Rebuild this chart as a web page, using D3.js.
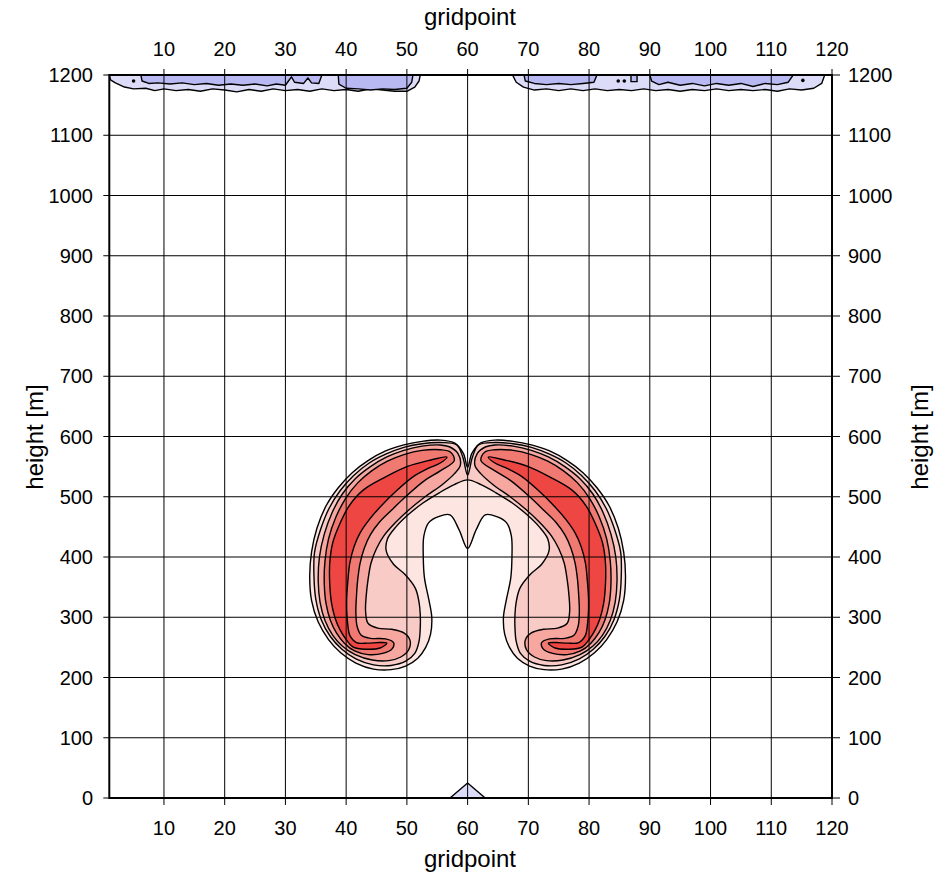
<!DOCTYPE html>
<html>
<head>
<meta charset="utf-8">
<script src="https://cdn.jsdelivr.net/npm/d3@7"></script>
<style>
  body { margin: 0; background: #fff; }
  text { font-family: "Liberation Sans", Arial, sans-serif; fill: #000; }
</style>
</head>
<body>
<div class="svg-content"></div>
<script>
// axis ticks
var xTicks = [10, 20, 30, 40, 50, 60, 70, 80, 90, 100, 110, 120];
var yTicks = [0, 100, 200, 300, 400, 500, 600, 700, 800, 900, 1000, 1100, 1200];

// contour outlines, [gridpoint, height]
var bubbleL1 = [[60.0,414],[58.6,445],[57.1,470],[55.2,467],[53.6,457],[52.8,435],[52.7,400],[52.9,365],[53.6,330],[54.1,300],[53.9,272],[53.1,250],[51.8,232],[49.8,219],[47.4,213],[44.5,214],[41.6,224],[39.1,241],[37.1,263],[35.4,292],[34.3,328],[34.0,368],[34.3,408],[35.2,448],[36.7,485],[38.7,515],[41.0,540],[43.6,560],[46.5,576],[49.5,586],[52.5,592],[55.5,594],[57.9,589],[59.3,572],[60.0,549],
  [60.7,572],[62.1,589],[64.5,594],[67.5,592],[70.5,586],[73.5,576],[76.4,560],[79.0,540],[81.3,515],[83.3,485],[84.8,448],[85.7,408],[86.0,368],[85.7,328],[84.6,292],[82.9,263],[80.9,241],[78.4,224],[75.5,214],[72.6,213],[70.2,219],[68.2,232],[66.9,250],[66.1,272],[65.9,300],[66.4,330],[67.1,365],[67.3,400],[67.2,435],[66.4,457],[64.8,467],[62.9,470],[61.4,445]];

var bubbleL2 = [[60,536],[59.2,566],[58.2,586],[55.5,590],[52.5,588],[49.5,582],[46.6,571],[43.8,556],[41.2,535],[39,510],[37.2,481],[35.8,446],[34.8,408],[34.7,368],[35,330],[35.9,296],[37.4,268],[39.3,247],[41.6,231],[44.5,221],[47.4,220],[49.8,227],[51.3,240],[52,260],[52.2,282],[52.2,305],[52,325],[51.4,348],[49.7,371],[47.8,388],[46.6,410],[46.8,430],[48.2,450],[50.2,470],[52.7,490],[55.4,507],[57.8,520],[60,528],
  [62.2,520],[64.6,507],[67.3,490],[69.8,470],[71.8,450],[73.2,430],[73.4,410],[72.2,388],[70.3,371],[68.6,348],[68,325],[67.8,305],[67.8,282],[68,260],[68.7,240],[70.2,227],[72.6,220],[75.5,221],[78.4,231],[80.7,247],[82.6,268],[84.1,296],[85,330],[85.3,368],[85.2,408],[84.2,446],[82.8,481],[81,510],[78.8,535],[76.2,556],[73.4,571],[70.5,582],[67.5,588],[64.5,590],[61.8,586],[60.8,566]];

var bubbleL3Left = [[58.8,552],[58.4,572],[57,583],[55.5,586],[52.5,584],[49.5,577],[46.7,566],[44,550],[41.5,530],[39.4,505],[37.7,474],[36.4,438],[35.6,400],[35.4,360],[35.7,325],[36.5,295],[37.8,270],[39.4,252],[41.5,238],[44.3,229],[47,228],[49,234],[50.3,246],[50.5,262],[49.5,274],[47.5,280],[45.2,282],[43.6,290],[43.2,310],[43.3,335],[43.6,362],[44.1,390],[45,414],[46.2,435],[48,456],[50.3,478],[53,500],[55.8,520],[57.8,538]];
var bubbleL3Right = [[61.2,552],[61.6,572],[63,583],[64.5,586],[67.5,584],[70.5,577],[73.3,566],[76,550],[78.5,530],[80.6,505],[82.3,474],[83.6,438],[84.4,400],[84.6,360],[84.3,325],[83.5,295],[82.2,270],[80.6,252],[78.5,238],[75.7,229],[73,228],[71,234],[69.7,246],[69.5,262],[70.5,274],[72.5,280],[74.8,282],[76.4,290],[76.8,310],[76.7,335],[76.4,362],[75.9,390],[75,414],[73.8,435],[72,456],[69.7,478],[67,500],[64.2,520],[62.2,538]];

var bubbleL4Left = [[57.8,560],[57.2,574],[55.5,578],[52.5,577],[49.5,570],[46.8,559],[44.2,543],[41.9,523],[39.9,497],[38.3,466],[37.1,430],[36.5,392],[36.4,355],[36.7,322],[37.4,295],[38.4,274],[39.7,257],[41.4,244],[43.6,238],[46,240],[47.6,248],[47.8,258],[46.5,264],[44,265],[42.5,270],[41.8,285],[41.6,310],[41.7,335],[41.9,362],[42.3,390],[43,415],[44,437],[45.5,458],[47.5,478],[50,502],[52.8,526],[55.5,543]];
var bubbleL4Right = [[62.2,560],[62.8,574],[64.5,578],[67.5,577],[70.5,570],[73.2,559],[75.8,543],[78.1,523],[80.1,497],[81.7,466],[82.9,430],[83.5,392],[83.6,355],[83.3,322],[82.6,295],[81.6,274],[80.3,257],[78.6,244],[76.4,238],[74,240],[72.4,248],[72.2,258],[73.5,264],[76,265],[77.5,270],[78.2,285],[78.4,310],[78.3,335],[78.1,362],[77.7,390],[77,415],[76,437],[74.5,458],[72.5,478],[70,502],[67.2,526],[64.5,543]];

var bubbleL5Left = [[56.6,566],[53.5,560],[50,550],[46.5,533],[42.8,511],[40.5,485],[39,456],[37.8,424],[37.3,390],[37.3,355],[37.6,323],[38.2,298],[39,279],[40,263],[41.1,251],[43.2,247],[45.6,249],[46.7,257],[45.5,258],[43.5,257],[41.7,258],[40.6,270],[40.3,285],[40.1,310],[40.1,334],[40.3,362],[40.6,390],[41.3,417],[42.3,440],[43.8,462],[45.6,483],[48.2,509],[51,533],[53.5,547],[55.5,556]];
var bubbleL5Right = [[63.4,566],[66.5,560],[70,550],[73.5,533],[77.2,511],[79.5,485],[81,456],[82.2,424],[82.7,390],[82.7,355],[82.4,323],[81.8,298],[81,279],[80,263],[78.9,251],[76.8,247],[74.4,249],[73.3,257],[74.5,258],[76.5,257],[78.3,258],[79.4,270],[79.7,285],[79.9,310],[79.9,334],[79.7,362],[79.4,390],[78.7,417],[77.7,440],[76.2,462],[74.4,483],[71.8,509],[69,533],[66.5,547],[64.5,556]];

// negative areas at the model top and the ground
var blueOuterLeft = [[1,1200],[1.2,1192],[2,1187],[3.5,1180],[5,1177],[7,1178],[8.5,1174],[10,1177],[12,1174],[14,1176],[16,1173],[18,1177],[20,1175],[22,1172],[24,1176],[26,1173],[28,1177],[30,1174],[32,1176],[34,1173],[36,1177],[38,1174],[40,1176],[42,1173],[44,1177],[46,1175],[48,1173],[50,1173],[51.3,1180],[52,1190],[52.2,1200]];
var blueOuterRight = [[67.4,1200],[68,1188],[69.2,1180],[71,1175],[73,1177],[75,1174],[77,1177],[79,1174],[81,1177],[83,1174],[85,1176],[87,1174],[89,1177],[91,1174],[93,1176],[95,1173],[97,1176],[99,1174],[101,1177],[103,1174],[105,1176],[107,1174],[109,1176],[111,1173],[113,1177],[115,1175],[117,1178],[118.3,1186],[118.8,1200]];
var blueInner = [
  [[6.2,1200],[6.4,1190],[7.5,1186],[9,1187],[11,1185],[13,1187],[15,1184],[17,1186],[19,1183],[21,1185],[23,1183],[25,1185],[27,1182],[28.5,1185],[30,1183],[30.5,1190],[31,1197],[31.5,1188],[33,1186],[33.7,1195],[34.3,1187],[35.5,1186],[36,1200]],
  [[38.7,1200],[38.8,1185],[40,1178],[42,1177],[44,1175],[46,1177],[48,1176],[50,1178],[50.8,1188],[51,1200]],
  [[69.3,1200],[69.5,1190],[71,1186],[73,1184],[75,1186],[77,1184],[79,1186],[80.8,1188],[81.3,1200]],
  [[86.9,1200],[86.9,1189],[87.9,1189],[87.9,1200]],
  [[90,1200],[90.3,1190],[91.5,1184],[93,1188],[95,1183],[97,1186],[99,1182],[101,1186],[103,1183],[105,1186],[107,1181],[109,1186],[111,1184],[112.8,1188],[113.6,1200]]
];
var blueDots = [[5,1190],[84.8,1190],[85.8,1190],[115.2,1191]];
var groundBlue = [[57.1,0],[60,25],[62.9,0]];

var width = 947, height = 874;
var svg = d3.select(".svg-content").append("svg")
  .attr("width", width).attr("height", height);

var x = d3.scaleLinear().domain([1, 120]).range([109.3, 832]);
var y = d3.scaleLinear().domain([0, 1200]).range([798, 75]);

svg.append("clipPath").attr("id", "plot-clip")
  .append("rect").attr("x", x(1)).attr("y", y(1200))
  .attr("width", x(120) - x(1)).attr("height", y(0) - y(1200));

var plot = svg.append("g").attr("clip-path", "url(#plot-clip)");

var smooth = d3.line().x(function(d) { return x(d[0]); }).y(function(d) { return y(d[1]); })
  .curve(d3.curveCatmullRomClosed.alpha(0.5));
var straight = d3.line().x(function(d) { return x(d[0]); }).y(function(d) { return y(d[1]); })
  .curve(d3.curveLinearClosed);

function contour(pts, fill, gen) {
  plot.append("path").attr("d", (gen || smooth)(pts))
    .attr("fill", fill).attr("stroke", "#000").attr("stroke-width", 1.4)
    .attr("stroke-linejoin", "round");
}

// blue
contour(blueOuterLeft, "#dcdcf8", straight);
contour(blueOuterRight, "#dcdcf8", straight);
blueInner.forEach(function(p) { contour(p, "#b8b8f2", straight); });
plot.selectAll(".dot").data(blueDots).enter().append("circle")
  .attr("cx", function(d) { return x(d[0]); }).attr("cy", function(d) { return y(d[1]); })
  .attr("r", 1.8).attr("fill", "#000");
contour(groundBlue, "#dcdcf8", straight);

// red bubble
contour(bubbleL1, "#fde5e2");
contour(bubbleL2, "#f9cbc6");
contour(bubbleL3Left, "#f5a7a0");
contour(bubbleL3Right, "#f5a7a0");
contour(bubbleL4Left, "#f07a72");
contour(bubbleL4Right, "#f07a72");
contour(bubbleL5Left, "#ee4642");
contour(bubbleL5Right, "#ee4642");

// grid
var grid = svg.append("g");
grid.selectAll(".gx").data(xTicks).enter().append("line")
  .attr("x1", function(d) { return x(d); }).attr("x2", function(d) { return x(d); })
  .attr("y1", y(1200) - 6).attr("y2", y(0) + 7)
  .attr("stroke", "#000").attr("stroke-width", 1);
grid.selectAll(".gy").data(yTicks).enter().append("line")
  .attr("y1", function(d) { return y(d); }).attr("y2", function(d) { return y(d); })
  .attr("x1", x(1) - 6).attr("x2", x(120) + 8)
  .attr("stroke", "#000").attr("stroke-width", 1);

// frame
svg.append("rect").attr("x", x(1)).attr("y", y(1200))
  .attr("width", x(120) - x(1)).attr("height", y(0) - y(1200))
  .attr("fill", "none").attr("stroke", "#000").attr("stroke-width", 2);

// tick labels
var fs = 20;
svg.selectAll(".xb").data(xTicks).enter().append("text")
  .attr("x", function(d) { return x(d); }).attr("y", 835)
  .attr("text-anchor", "middle").attr("font-size", fs).text(function(d) { return d; });
svg.selectAll(".xt").data(xTicks).enter().append("text")
  .attr("x", function(d) { return x(d); }).attr("y", 56)
  .attr("text-anchor", "middle").attr("font-size", fs).text(function(d) { return d; });
svg.selectAll(".yl").data(yTicks).enter().append("text")
  .attr("x", 93).attr("y", function(d) { return y(d) + 7; })
  .attr("text-anchor", "end").attr("font-size", fs).text(function(d) { return d; });
svg.selectAll(".yr").data(yTicks).enter().append("text")
  .attr("x", 848).attr("y", function(d) { return y(d) + 7; })
  .attr("text-anchor", "start").attr("font-size", fs).text(function(d) { return d; });

// titles
svg.append("text").attr("x", 470).attr("y", 25).attr("text-anchor", "middle")
  .attr("font-size", 24).text("gridpoint");
svg.append("text").attr("x", 470).attr("y", 867).attr("text-anchor", "middle")
  .attr("font-size", 24).text("gridpoint");
svg.append("text").attr("transform", "translate(43,437) rotate(-90)").attr("text-anchor", "middle")
  .attr("font-size", 24).text("height [m]");
svg.append("text").attr("transform", "translate(928,437) rotate(-90)").attr("text-anchor", "middle")
  .attr("font-size", 24).text("height [m]");
</script>
</body>
</html>
